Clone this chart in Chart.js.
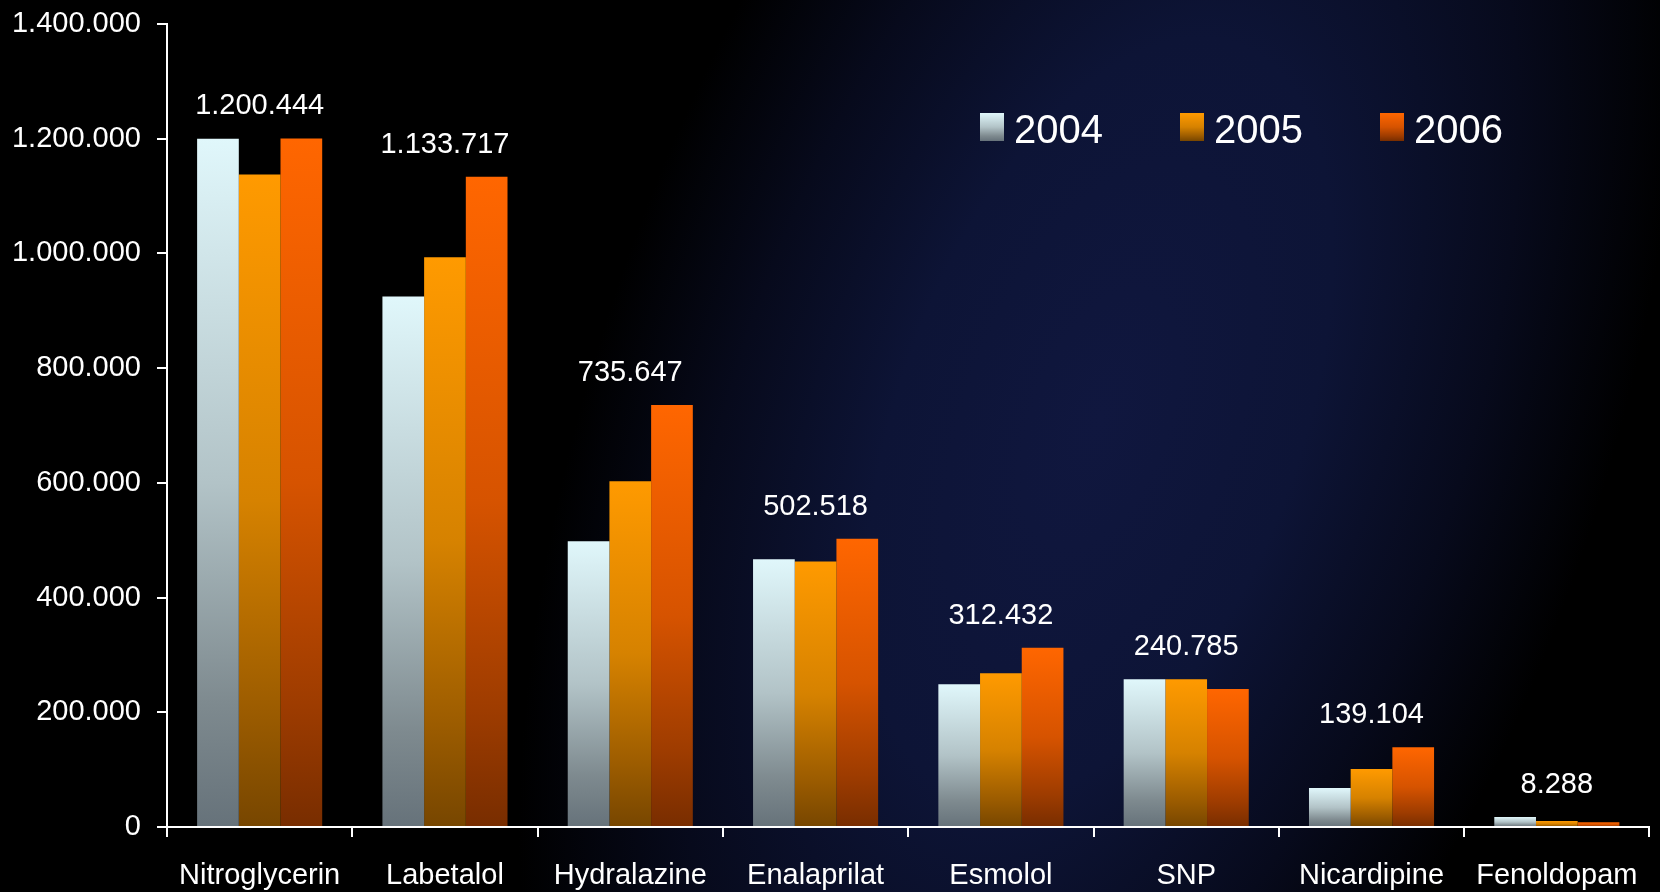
<!DOCTYPE html>
<html>
<head>
<meta charset="utf-8">
<title>Antihypertensive use 2004-2006</title>
<script src="https://cdn.jsdelivr.net/npm/chart.js@4.4.1/dist/chart.umd.min.js"></script>
<style>
  html, body { margin: 0; padding: 0; background: #000; overflow: hidden; }
  #wrap { position: relative; width: 1660px; height: 892px; overflow: hidden; background: #000; }
  #glow {
    position: absolute; left: 600px; top: -580px; width: 1000px; height: 2000px;
    background: radial-gradient(closest-side, #10173f 0%, #0d1436 40%, #070a1c 72%, rgba(0,0,0,0) 100%);
    transform: rotate(20deg);
  }
  #chartBox { position: absolute; left: 0; top: 0; width: 1660px; height: 892px; }
</style>
</head>
<body>
<div id="wrap">
  <div id="glow"></div>
  <div id="chartBox"><canvas id="chart"></canvas></div>
</div>
<script>
// ===============================
// DATA
// ===============================
const drugs = ["Nitroglycerin", "Labetalol", "Hydralazine", "Enalaprilat", "Esmolol", "SNP", "Nicardipine", "Fenoldopam"];
const years = ["2004", "2005", "2006"];

const values2004 = [1200000, 925000, 498000, 467000, 249000, 257800, 67900, 17400];
const values2005 = [1137500, 993500, 603000, 463000, 268000, 257800, 101000, 10450];
const values2006 = [1200444, 1133717, 735647, 502518, 312432, 240785, 139104, 8288];

const yTicksMax = 1400000;
const yTicksStep = 200000;

// ===============================
// HELPERS
// ===============================
const FONT = "'Liberation Sans', Arial, sans-serif";

function fmt(v) {
  return String(Math.round(v)).replace(/\B(?=(\d{3})+(?!\d))/g, ".");
}

// top -> bottom colour stops for each year
const shades = [
  ["#e0f7fb", "#b2c3c7", "#7e8a8f", "#66727a"],
  ["#ff9a00", "#d68200", "#9c5c00", "#774600"],
  ["#ff6600", "#d65300", "#9e3c00", "#782d00"]
];

function makeGradient(ctx, y0, y1, stops) {
  const g = ctx.createLinearGradient(0, y0, 0, y1);
  g.addColorStop(0, stops[0]);
  g.addColorStop(0.5, stops[1]);
  g.addColorStop(0.82, stops[2]);
  g.addColorStop(1, stops[3]);
  return g;
}

function barFill(idx) {
  return c => {
    const chart = c.chart;
    if (!chart.chartArea || c.type !== "data") return shades[idx][0];
    const y = chart.scales.y;
    return makeGradient(chart.ctx, y.getPixelForValue(c.parsed.y), y.getPixelForValue(0), shades[idx]);
  };
}

// ===============================
// PLUGINS
// ===============================
const valueLabels = {
  id: "valueLabels",
  afterDatasetsDraw(chart) {
    const { ctx, scales } = chart;
    ctx.save();
    ctx.fillStyle = "#ffffff";
    ctx.font = "29px " + FONT;
    ctx.textAlign = "center";
    ctx.textBaseline = "middle";
    drugs.forEach((d, i) => {
      const top = Math.max(values2004[i], values2005[i], values2006[i]);
      const x = scales.x.getPixelForValue(i);
      const y = scales.y.getPixelForValue(top) - 32;
      ctx.fillText(fmt(values2006[i]), x, y);
    });
    ctx.restore();
  }
};

const cornerLegend = {
  id: "cornerLegend",
  afterDraw(chart) {
    const { ctx } = chart;
    ctx.save();
    ctx.font = "40px " + FONT;
    ctx.textBaseline = "alphabetic";
    ctx.textAlign = "left";
    chart.data.datasets.forEach((ds, i) => {
      const bx = 980 + i * 200;
      ctx.fillStyle = makeGradient(ctx, 113, 141, shades[i]);
      ctx.fillRect(bx, 113, 24, 28);
      ctx.fillStyle = "#ffffff";
      ctx.fillText(ds.label, bx + 34, 143);
    });
    ctx.restore();
  }
};

// ===============================
// CHART
// ===============================
const series = [values2004, values2005, values2006];

new Chart(document.getElementById("chart"), {
  type: "bar",
  data: {
    labels: drugs,
    datasets: years.map((yr, i) => ({
      label: yr,
      data: series[i],
      backgroundColor: barFill(i),
      borderWidth: 0,
      categoryPercentage: 0.675,
      barPercentage: 1.0
    }))
  },
  options: {
    responsive: true,
    maintainAspectRatio: false,
    animation: false,
    layout: { padding: { top: 24, right: 9, left: 0, bottom: 0 } },
    plugins: {
      legend: { display: false },
      tooltip: { enabled: false }
    },
    scales: {
      x: {
        afterFit: s => { s.height = 65; },
        grid: {
          offset: true,
          drawOnChartArea: false,
          drawTicks: true,
          tickLength: 10,
          color: "#ffffff",
          lineWidth: 2
        },
        border: { color: "#ffffff", width: 2 },
        ticks: {
          color: "#ffffff",
          font: { family: FONT, size: 29 },
          padding: 22,
          maxRotation: 0,
          autoSkip: false
        }
      },
      y: {
        min: 0,
        max: yTicksMax,
        afterFit: s => { s.width = 167; s.paddingTop = 0; s.paddingBottom = 0; },
        grid: {
          drawOnChartArea: false,
          drawTicks: true,
          tickLength: 10,
          color: "#ffffff",
          lineWidth: 2
        },
        border: { color: "#ffffff", width: 2 },
        ticks: {
          stepSize: yTicksStep,
          color: "#ffffff",
          font: { family: FONT, size: 29 },
          padding: 16,
          callback: v => fmt(v)
        }
      }
    }
  },
  plugins: [valueLabels, cornerLegend]
});
</script>
</body>
</html>
